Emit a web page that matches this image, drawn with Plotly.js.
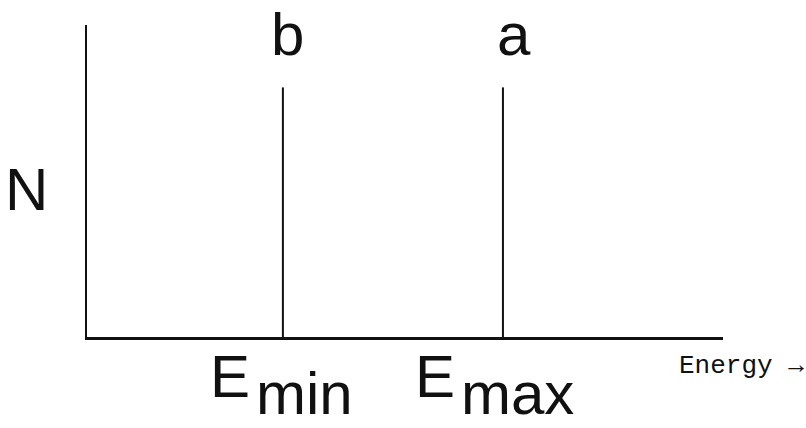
<!DOCTYPE html>
<html>
<head>
<meta charset="utf-8">
<script src="https://cdn.plot.ly/plotly-3.0.1.min.js"></script>
<style>html,body{margin:0;padding:0;background:#fff;}#chart{width:806px;height:428px;}</style>
</head>
<body>
<div id="chart"></div>
<script>
// Data
var lineLabels = ['b', 'a'];
var energies = [3.08, 6.54];
var counts = [0.80, 0.80];
var tickVals = [3.08, 6.54];
var tickMain = ['E', 'E'];
var tickSubs = ['min', 'max'];
var yLabel = 'N';
var xLabel = 'Energy \u2192';

var W = 806, H = 428, L = 87, R = 83, T = 25, B = 91;
var PW = W - L - R, PH = H - T - B;
function px(x) { return (x - L) / PW; }
function py(y) { return (H - B - y) / PH; }

var big = 60;
var sans = 'Liberation Sans, Arial, sans-serif';
var ink = '#111';

var traces = energies.map(function (e, i) {
  return {
    type: 'scatter', mode: 'lines',
    x: [e, e], y: [0, counts[i]],
    line: {color: ink, width: 2},
    hoverinfo: 'skip', showlegend: false
  };
});

var labelShift = [5, 11];
var annotations = energies.map(function (e, i) {
  return {
    x: e, y: counts[i], xref: 'x', yref: 'y',
    text: lineLabels[i], showarrow: false,
    xanchor: 'center', yanchor: 'bottom',
    xshift: labelShift[i], yshift: 17,
    font: {family: sans, size: big, color: ink}
  };
});

// tick labels E_min / E_max drawn as text at the x axis positions
var mainShift = [-75, -90];
var subShift = [-29, -44];
tickVals.forEach(function (v, i) {
  annotations.push({
    x: v, y: 0, xref: 'x', yref: 'paper', text: tickMain[i], showarrow: false,
    xanchor: 'left', yanchor: 'top', xshift: mainShift[i], yshift: -4,
    font: {family: sans, size: big, color: ink}
  });
  annotations.push({
    x: v, y: 0, xref: 'x', yref: 'paper', text: tickSubs[i], showarrow: false,
    xanchor: 'left', yanchor: 'top', xshift: subShift[i], yshift: -21,
    font: {family: sans, size: big, color: ink}
  });
});

annotations.push({
  x: px(27), y: py(189), xref: 'paper', yref: 'paper', text: yLabel, showarrow: false,
  xanchor: 'center', yanchor: 'middle',
  font: {family: sans, size: big, color: ink}
});
annotations.push({
  x: px(806), y: py(366), xref: 'paper', yref: 'paper', text: xLabel, showarrow: false,
  xanchor: 'right', yanchor: 'middle',
  font: {family: 'Liberation Mono, Courier New, monospace', size: 26, color: ink}
});

var layout = {
  width: W, height: H,
  margin: {l: L, r: R, t: T, b: B},
  paper_bgcolor: '#fff', plot_bgcolor: '#fff',
  showlegend: false,
  xaxis: {
    range: [0, 10], showgrid: false, zeroline: false,
    showline: true, linecolor: ink, linewidth: 2.5,
    ticks: '', showticklabels: false, fixedrange: true
  },
  yaxis: {
    range: [0, 1], showgrid: false, zeroline: false,
    showline: true, linecolor: ink, linewidth: 2.5,
    ticks: '', showticklabels: false, fixedrange: true
  },
  annotations: annotations
};

Plotly.newPlot('chart', traces, layout, {displayModeBar: false, staticPlot: true});
</script>
</body>
</html>
